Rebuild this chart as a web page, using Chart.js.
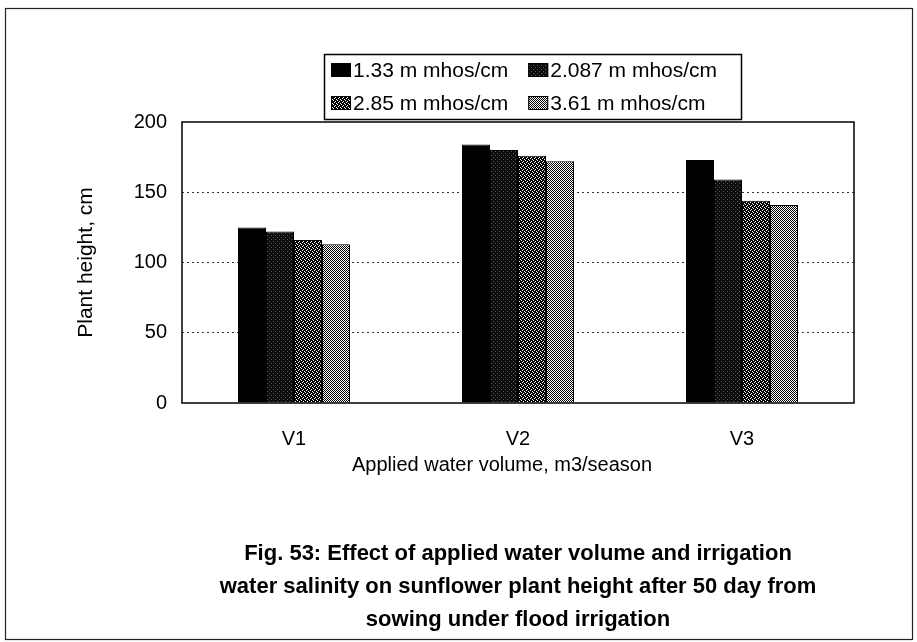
<!DOCTYPE html>
<html><head><meta charset="utf-8">
<script src="https://cdn.jsdelivr.net/npm/chart.js@4.4.1/dist/chart.umd.min.js"></script>
<style>html,body{margin:0;padding:0;background:#fff}#wrap{width:917px;height:642px;position:relative}</style>
</head><body><div id="wrap"><canvas id="c" width="917" height="642"></canvas></div>
<script>
// ---- data ----
const categories = ['V1', 'V2', 'V3'];
const seriesLabels = ['1.33 m mhos/cm', '2.087 m mhos/cm', '2.85 m mhos/cm', '3.61 m mhos/cm'];
const ec133 = [125, 184, 173];
const ec2087 = [122, 180, 159];
const ec285 = [116, 176, 144];
const ec361 = [113, 172, 141];
const yTicks = [0, 50, 100, 150, 200];
const xTitle = 'Applied water volume, m3/season';
const yTitle = 'Plant height, cm';
const titleLines = [
  'Fig. 53: Effect of applied water volume and irrigation',
  'water salinity on sunflower plant height after 50 day from',
  'sowing under flood irrigation'
];

const FONT = '"Liberation Sans", Arial, sans-serif';

function makePattern(rows, colors) {
  const h = rows.length, w = rows[0].length;
  const cv = document.createElement('canvas');
  cv.width = w; cv.height = h;
  const cx = cv.getContext('2d');
  for (let y = 0; y < h; y++) for (let x = 0; x < w; x++) {
    cx.fillStyle = colors[rows[y][x]];
    cx.fillRect(x, y, 1, 1);
  }
  return document.getElementById('c').getContext('2d').createPattern(cv, 'repeat');
}
const cols = {K: '#000000', D: '#0d0d0d', G: '#5a5a5a', W: '#ffffff', L: '#d8d8d8'};
const fills = [
  '#000000',
  makePattern(['DDDD', 'DGDD', 'DDDD', 'DDDG'], cols),
  makePattern(['KWKK', 'KKKW', 'KKWK', 'WKKK'], cols),
  makePattern(['KW', 'WK'], cols)
];
const seriesData = [ec133, ec2087, ec285, ec361];

const bgPlugin = {
  id: 'bg',
  beforeDraw(chart) {
    const ctx = chart.ctx;
    ctx.save();
    ctx.fillStyle = '#fff';
    ctx.fillRect(0, 0, chart.width, chart.height);
    ctx.strokeStyle = '#222';
    ctx.lineWidth = 1.2;
    ctx.strokeRect(5.5, 8.5, 907, 631);
    ctx.restore();
  },
  afterDatasetsDraw(chart) {
    const a = chart.chartArea, ctx = chart.ctx;
    ctx.save();
    ctx.strokeStyle = '#000';
    ctx.lineWidth = 1.5;
    ctx.strokeRect(a.left, a.top, a.right - a.left, a.bottom - a.top);
    ctx.restore();
  },
  afterDraw(chart) {
    const ctx = chart.ctx;
    ctx.save();
    // x axis title
    ctx.fillStyle = '#000';
    ctx.font = '20px ' + FONT;
    ctx.textAlign = 'center';
    ctx.textBaseline = 'middle';
    ctx.fillText(xTitle, 502, 465);
    // legend box
    ctx.strokeStyle = '#000';
    ctx.lineWidth = 1.5;
    ctx.fillStyle = '#fff';
    ctx.fillRect(324, 54, 417, 66);
    ctx.strokeRect(324.5, 54.5, 417, 65);
    ctx.font = '21px ' + FONT;
    ctx.textAlign = 'left';
    const rows = [[0, 1], [2, 3]];
    const ys = [70, 103];
    rows.forEach((r, ri) => {
      let x = 331;
      r.forEach(i => {
        const y = ys[ri];
        ctx.fillStyle = chart.data.datasets[i].backgroundColor;
        ctx.fillRect(x, y - 7, 20, 14);
        ctx.lineWidth = 1;
        ctx.strokeRect(x + 0.5, y - 6.5, 19, 13);
        ctx.fillStyle = '#000';
        ctx.fillText(chart.data.datasets[i].label, x + 22, y + 1);
        x += 22 + ctx.measureText(chart.data.datasets[i].label).width + 20;
      });
    });
    ctx.restore();
  }
};

new Chart(document.getElementById('c'), {
  type: 'bar',
  data: {
    labels: categories,
    datasets: seriesLabels.map((lab, i) => ({
      label: lab,
      data: seriesData[i],
      backgroundColor: fills[i],
      borderColor: '#000',
      borderWidth: 1,
      barPercentage: 1,
      categoryPercentage: 0.5
    }))
  },
  options: {
    responsive: false,
    animation: false,
    layout: {padding: {left: 0, right: 63, top: 122, bottom: 0}},
    plugins: {
      legend: {display: false},
      tooltip: {enabled: false},
      title: {
        display: true,
        position: 'bottom',
        fullSize: false,
        text: titleLines,
        color: '#000',
        font: {family: FONT, size: 22, weight: 'bold', lineHeight: 1.5},
        padding: {top: 34.5, bottom: 5.5}
      }
    },
    scales: {
      x: {
        grid: {display: false},
        border: {display: false},
        ticks: {color: '#000', font: {family: FONT, size: 20}, padding: 16},
        afterFit(s) { s.height = 100; }
      },
      y: {
        min: 0, max: 200,
        afterBuildTicks(s) { s.ticks = yTicks.map(v => ({value: v})); },
        grid: {
          drawTicks: false,
          color: (c) => (c.tick && (c.tick.value === 0 || c.tick.value === 200)) ? 'rgba(0,0,0,0)' : '#333',
          lineWidth: 1
        },
        border: {display: false, dash: [2, 3]},
        ticks: {color: '#000', font: {family: FONT, size: 20}, padding: 15},
        title: {display: true, text: yTitle, color: '#000', font: {family: FONT, size: 21}, padding: {top: 74, bottom: 0}},
        afterFit(s) { s.width = 182; }
      }
    }
  },
  plugins: [bgPlugin]
});
</script></body></html>
